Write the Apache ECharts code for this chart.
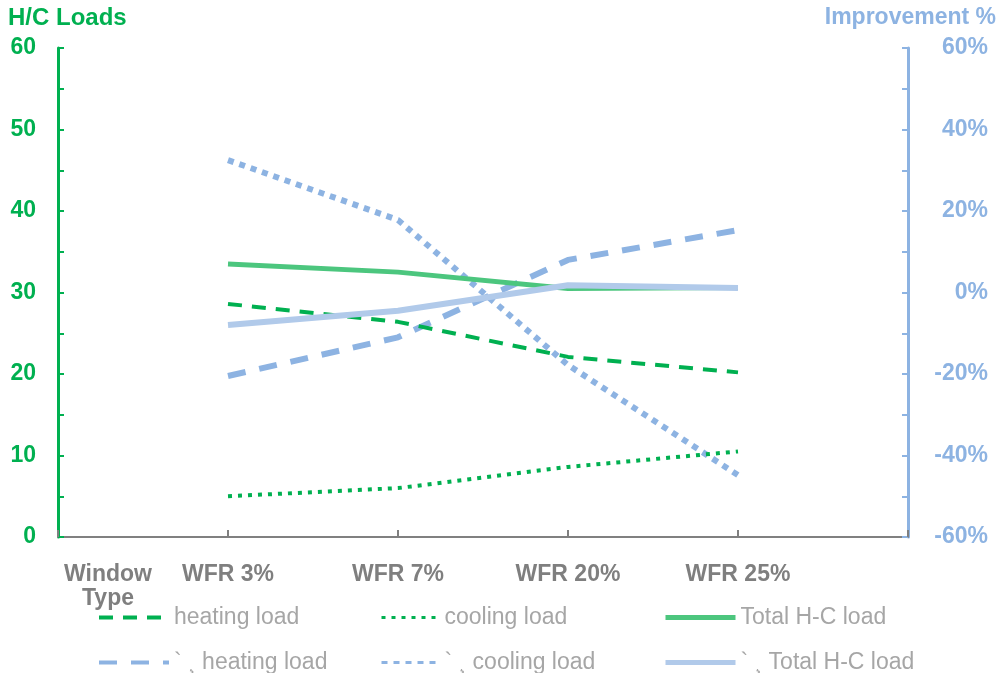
<!DOCTYPE html>
<html>
<head>
<meta charset="utf-8">
<script src="https://cdn.jsdelivr.net/npm/echarts@6/dist/echarts.min.js"></script>
<style>
  html, body { margin: 0; padding: 0; background: #fff; }
  #chart { width: 998px; height: 673px; }
</style>
</head>
<body>
<div id="chart"></div>
<script>
// categories (first and last are empty slots so points sit between the axes)
const categories = ['', 'WFR 3%', 'WFR 7%', 'WFR 20%', 'WFR 25%', ''];

// H/C loads (left axis)
const heatingLoad = [null, 28.6, 26.4, 22.1, 20.2, null];
const coolingLoad = [null, 5.0, 6.0, 8.6, 10.5, null];
const totalLoad = [null, 33.5, 32.5, 30.5, 30.6, null];

// improvement % (right axis)
const heatingImp = [null, -20.5, -11, 8, 15.3, null];
const coolingImp = [null, 32.5, 17.8, -17.8, -44.8, null];
const totalImp = [null, -8, -4.5, 1.8, 1.1, null];

const names = {
    heat: 'heating load',
    cool: 'cooling load',
    total: 'Total H-C load',
    heatImp: '` ¸ heating load',
    coolImp: '` ¸ cooling load',
    totalImp: '` ¸ Total H-C load'
};

const green = '#00B050';
const greenLight = '#4CC67E';
const blue = '#8DB3E2';
const blueLight = '#B1CAEA';
const font = '"Liberation Sans", Arial, sans-serif';

const chart = echarts.init(document.getElementById('chart'));

function lineSeries(name, data, color, type, width, yIndex, z) {
    return {
        name: name,
        type: 'line',
        yAxisIndex: yIndex,
        data: data,
        showSymbol: false,
        symbol: 'none',
        z: z,
        lineStyle: { color: color, width: width, type: type },
        itemStyle: { color: color }
    };
}

// one legend per entry so the columns line up like the original
function legendAt(name, left, top, width, lw) {
    return {
        data: [name],
        left: left,
        top: top,
        itemWidth: width,
        itemHeight: 14,
        itemGap: 0,
        itemStyle: { opacity: 0 },
        lineStyle: { width: lw },
        textStyle: { color: '#A6A6A6', fontSize: 23, fontFamily: font },
        selectedMode: false
    };
}

const option = {
    animation: false,
    backgroundColor: '#fff',
    grid: { left: 58, right: 90, top: 48, bottom: 136, containLabel: false },
    xAxis: {
        type: 'category',
        data: categories,
        boundaryGap: false,
        axisLine: { lineStyle: { color: '#808080', width: 2 } },
        axisTick: { show: true, inside: true, length: 7, lineStyle: { color: '#808080', width: 2 } },
        axisLabel: { color: '#7F7F7F', fontSize: 23, fontWeight: 'bold', fontFamily: font, margin: 26, interval: 0 },
        splitLine: { show: false }
    },
    yAxis: [
        {
            type: 'value',
            min: 0,
            max: 60,
            interval: 10,
            position: 'left',
            axisLine: { show: true, lineStyle: { color: green, width: 3 } },
            axisTick: { show: true, inside: true, length: 6, lineStyle: { color: green, width: 2 } },
            minorTick: { show: true, splitNumber: 2, length: 6, lineStyle: { color: green, width: 2 } },
            axisLabel: { color: green, fontSize: 23, fontWeight: 'bold', fontFamily: font, margin: 22 },
            splitLine: { show: false }
        },
        {
            type: 'value',
            min: -60,
            max: 60,
            interval: 20,
            position: 'right',
            axisLine: { show: true, lineStyle: { color: blue, width: 3 } },
            axisTick: { show: true, inside: true, length: 6, lineStyle: { color: blue, width: 2 } },
            minorTick: { show: true, splitNumber: 2, length: 6, lineStyle: { color: blue, width: 2 } },
            axisLabel: {
                color: blue, fontSize: 23, fontWeight: 'bold', fontFamily: font,
                margin: 80, align: 'right', formatter: '{value}%'
            },
            splitLine: { show: false }
        }
    ],
    legend: [
        legendAt(names.heat, 92, 601, 70, 4),
        legendAt(names.cool, 375, 601, 58, 3),
        legendAt(names.total, 658, 601, 70, 5),
        legendAt(names.heatImp, 92, 646, 70, 4),
        legendAt(names.coolImp, 375, 646, 58, 3),
        legendAt(names.totalImp, 658, 646, 70, 5)
    ],
    graphic: [
        {
            type: 'text', left: 8, top: 6,
            style: { text: 'H/C Loads', fill: green, font: 'bold 24px ' + font }
        },
        {
            type: 'text', right: 2, top: 6,
            style: { text: 'Improvement %', fill: blue, font: 'bold 23px ' + font }
        },
        {
            type: 'text', x: 108, y: 563,
            style: {
                text: 'Window\nType', fill: '#7F7F7F', font: 'bold 23px ' + font,
                align: 'center', verticalAlign: 'top', lineHeight: 24
            }
        }
    ],
    series: [
        lineSeries(names.heat, heatingLoad, green, [14, 10], 4, 0, 5),
        lineSeries(names.cool, coolingLoad, green, [4, 6], 4, 0, 5),
        lineSeries(names.total, totalLoad, greenLight, 'solid', 5, 0, 4),
        lineSeries(names.heatImp, heatingImp, blue, [18, 14], 6, 1, 3),
        lineSeries(names.coolImp, coolingImp, blue, [6, 6], 6, 1, 3),
        lineSeries(names.totalImp, totalImp, blueLight, 'solid', 6, 1, 6)
    ]
};

chart.setOption(option);
</script>
</body>
</html>
